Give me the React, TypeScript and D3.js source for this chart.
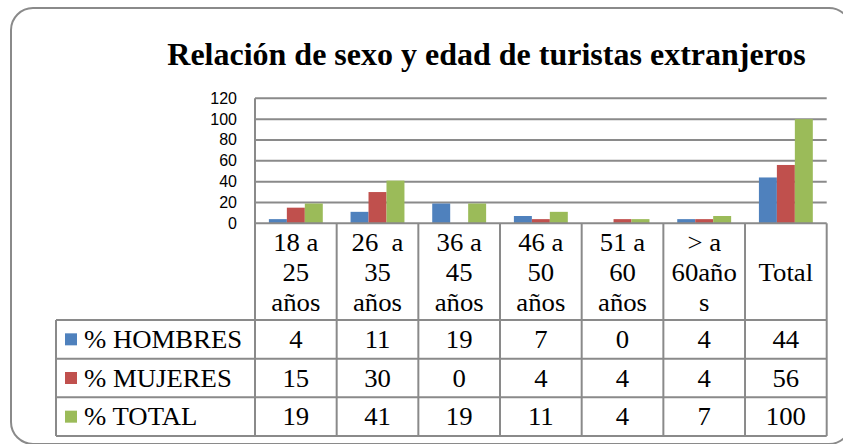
import React from "react";
import * as d3 from "d3";

const categories: string[][] = [
  ["18 a", "25", "años"],
  ["26  a", "35", "años"],
  ["36 a", "45", "años"],
  ["46 a", "50", "años"],
  ["51 a", "60", "años"],
  ["> a", "60año", "s"],
  ["Total"],
];
const seriesNames = ["% HOMBRES", "% MUJERES", "% TOTAL"];
const hombres = [4, 11, 19, 7, 0, 4, 44];
const mujeres = [15, 30, 0, 4, 4, 4, 56];
const total = [19, 41, 19, 11, 4, 7, 100];
const yTicks = [0, 20, 40, 60, 80, 100, 120];
const colors = ["#4F81BD", "#C0504D", "#9BBB59"];

const W = 843;
const H = 444;
const plotLeft = 255;
const plotRight = 826.7;
const plotTop = 98.3;
const plotBottom = 223.3;
const tableBottom = 436;
const legendLeft = 56;
const headerBottom = 320;
const gridColor = "#8a8a8a";
const SX = 1.07;

export default function App() {
  const series = [hombres, mujeres, total];
  const idx = categories.map((_, i) => String(i));
  const x = d3.scaleBand<string>().domain(idx).range([plotLeft, plotRight]).padding(0);
  const y = d3.scaleLinear().domain([0, 120]).range([plotBottom, plotTop]);
  const bw = x.bandwidth();
  const barW = bw * 0.22;
  const groupW = barW * 3;
  const rowH = (tableBottom - headerBottom) / 3;
  const rowYs = [0, 1, 2].map((i) => headerBottom + i * rowH);
  const serif = "'Liberation Serif', 'Times New Roman', serif";
  const sans = "'Liberation Sans', Arial, sans-serif";
  const lineYs = [251, 281, 311];

  const T = (props: {
    x: number;
    y: number;
    anchor?: string;
    children: React.ReactNode;
    k?: string;
  }) => (
    <text
      transform={`translate(${props.x},${props.y}) scale(${SX},1)`}
      textAnchor={props.anchor || "middle"}
      fontFamily={serif}
      fontSize={25}
      fill="#000"
      style={{ whiteSpace: "pre" }}
    >
      {props.children}
    </text>
  );

  return (
    <svg
      width={W}
      height={H}
      style={{ position: "absolute", left: 0, top: 0, background: "#fff" }}
    >
      <rect x={0} y={0} width={W} height={H} fill="#fff" />
      <rect
        x={11}
        y={8}
        width={840}
        height={436}
        rx={22}
        ry={22}
        fill="#fff"
        stroke="#8a8a8a"
        strokeWidth={2}
      />
      <text
        x={486.5}
        y={65}
        textAnchor="middle"
        fontFamily={serif}
        fontWeight="bold"
        fontSize={32}
        fill="#000"
      >
        Relación de sexo y edad de turistas extranjeros
      </text>

      {/* gridlines */}
      {yTicks.map((t) => (
        <g key={t}>
          {t > 0 && (
            <line
              x1={plotLeft}
              x2={plotRight}
              y1={y(t)}
              y2={y(t)}
              stroke={gridColor}
              strokeWidth={2}
            />
          )}
          <text
            x={237}
            y={y(t) + 5.5}
            textAnchor="end"
            fontFamily={sans}
            fontSize={16}
            fill="#000"
          >
            {t}
          </text>
        </g>
      ))}

      {/* bars */}
      {series.map((s, si) =>
        s.map((v, ci) => {
          const bx = (x(String(ci)) as number) + (bw - groupW) / 2 + si * barW;
          return v > 0 ? (
            <rect
              key={`${si}-${ci}`}
              x={bx}
              y={y(v)}
              width={barW}
              height={y(0) - y(v)}
              fill={colors[si]}
            />
          ) : null;
        })
      )}

      {/* axis */}
      <line x1={plotLeft} x2={plotLeft} y1={plotTop} y2={tableBottom} stroke={gridColor} strokeWidth={2} />
      <line x1={plotLeft} x2={plotRight} y1={plotBottom} y2={plotBottom} stroke={gridColor} strokeWidth={2} />

      {/* table */}
      {idx.map((k) => (
        <line
          key={`v${k}`}
          x1={(x(k) as number) + bw}
          x2={(x(k) as number) + bw}
          y1={plotBottom}
          y2={tableBottom}
          stroke={gridColor}
          strokeWidth={2}
        />
      ))}
      <line x1={legendLeft} x2={legendLeft} y1={headerBottom} y2={tableBottom} stroke={gridColor} strokeWidth={2} />
      {[0, 1, 2, 3].map((r) => (
        <line
          key={`h${r}`}
          x1={legendLeft}
          x2={plotRight}
          y1={headerBottom + r * rowH}
          y2={headerBottom + r * rowH}
          stroke={gridColor}
          strokeWidth={2}
        />
      ))}

      {/* header labels */}
      {categories.map((lines, ci) => {
        const cx = (x(String(ci)) as number) + bw / 2;
        return lines.map((ln, li) => (
          <T
            key={`c${ci}-${li}`}
            x={cx}
            y={lines.length === 1 ? lineYs[1] : lineYs[li]}
          >
            {ln}
          </T>
        ));
      })}

      {/* rows */}
      {series.map((s, si) => {
        const ry = rowYs[si];
        const baseline = ry + rowH / 2 + 8.5;
        return (
          <g key={`r${si}`}>
            <rect x={65} y={ry + rowH / 2 - 6} width={12} height={12} fill={colors[si]} />
            <T x={84} y={baseline} anchor="start">
              {seriesNames[si]}
            </T>
            {s.map((v, ci) => (
              <T key={`v${ci}`} x={(x(String(ci)) as number) + bw / 2} y={baseline}>
                {v}
              </T>
            ))}
          </g>
        );
      })}
    </svg>
  );
}
